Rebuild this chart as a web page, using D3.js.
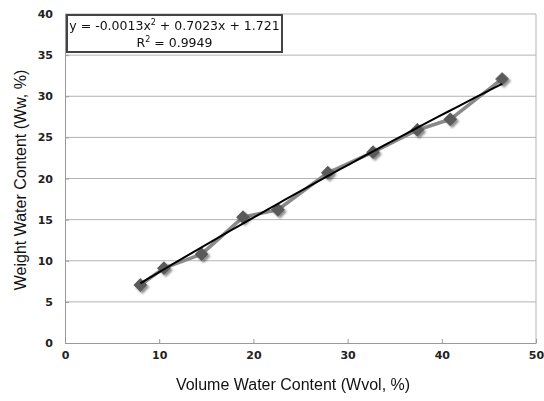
<!DOCTYPE html>
<html>
<head>
<meta charset="utf-8">
<script src="https://cdn.jsdelivr.net/npm/d3@7"></script>
<style>
  body { margin: 0; background: #fff; }
  svg { display: block; }
</style>
</head>
<body>
<div id="chart"></div>
<script>
// measured values
var volumeWater = [8.0, 10.5, 14.5, 18.9, 22.6, 27.9, 32.7, 37.4, 40.9, 46.4];
var weightWater = [7.05, 9.1, 10.8, 15.3, 16.2, 20.7, 23.2, 25.9, 27.2, 32.1];
// trendline coefficients shown in the label (a x^2 + b x + c)
var trendCoef = [-0.0013, 0.7023, 1.721];
var xTicks = [0, 10, 20, 30, 40, 50];
var yTicks = [0, 5, 10, 15, 20, 25, 30, 35, 40];

var width = 544, height = 401;
var margin = {top: 14, right: 8, bottom: 58, left: 65};

var svg = d3.select("#chart").append("svg")
    .attr("width", width).attr("height", height);

var defs = svg.append("defs");
var shadow = defs.append("filter").attr("id", "shadow")
    .attr("x", "-50%").attr("y", "-50%").attr("width", "200%").attr("height", "200%");
shadow.append("feGaussianBlur").attr("in", "SourceAlpha").attr("stdDeviation", 1.2);
shadow.append("feOffset").attr("dx", 1.5).attr("dy", 1.5).attr("result", "off");
shadow.append("feComponentTransfer").append("feFuncA").attr("type", "linear").attr("slope", 0.45);
var merge = shadow.append("feMerge");
merge.append("feMergeNode");
merge.append("feMergeNode").attr("in", "SourceGraphic");

var x = d3.scaleLinear().domain([0, 50]).range([margin.left, width - margin.right]);
var y = d3.scaleLinear().domain([0, 40]).range([height - margin.bottom, margin.top]);

// gridlines
svg.append("g")
  .selectAll("line")
  .data(yTicks.slice(1))
  .enter().append("line")
    .attr("x1", x(0)).attr("x2", x(50))
    .attr("y1", function(d) { return y(d); })
    .attr("y2", function(d) { return y(d); })
    .attr("stroke", "#b3b3b3").attr("stroke-width", 1);

// plot area right border
svg.append("line")
    .attr("x1", x(50)).attr("x2", x(50))
    .attr("y1", y(0)).attr("y2", y(40))
    .attr("stroke", "#b3b3b3");

// axes
var xAxis = svg.append("g")
    .attr("transform", "translate(0," + y(0) + ")")
    .call(d3.axisBottom(x).tickValues(xTicks).tickSize(4).tickSizeOuter(0));
var yAxis = svg.append("g")
    .attr("transform", "translate(" + x(0) + ",0)")
    .call(d3.axisLeft(y).tickValues(yTicks).tickSize(4).tickSizeOuter(0));

[xAxis, yAxis].forEach(function(ax) {
  ax.select(".domain").attr("stroke", "#999");
  ax.selectAll(".tick line").attr("stroke", "#999");
  ax.selectAll(".tick text")
      .attr("font-family", "Verdana, 'DejaVu Sans', sans-serif")
      .attr("font-weight", "bold")
      .attr("font-size", 11)
      .attr("fill", "#222");
});
xAxis.selectAll(".tick line").attr("y2", -4);
xAxis.selectAll(".tick text").attr("dy", "0.71em").attr("y", 8);
yAxis.selectAll(".tick line").attr("x2", 4);
yAxis.selectAll(".tick text").attr("x", -12);

// data series line
var pts = volumeWater.map(function(v, i) { return [v, weightWater[i]]; });
svg.append("path")
    .datum(pts)
    .attr("fill", "none")
    .attr("stroke", "#8a8a8a")
    .attr("stroke-width", 3.5)
    .attr("stroke-linejoin", "round")
    .attr("d", d3.line().x(function(d) { return x(d[0]); }).y(function(d) { return y(d[1]); }));

// markers
svg.append("g")
    .attr("filter", "url(#shadow)")
  .selectAll("path")
  .data(pts)
  .enter().append("path")
    .attr("d", d3.symbol().type(d3.symbolSquare).size(95))
    .attr("transform", function(d) { return "translate(" + x(d[0]) + "," + y(d[1]) + ") rotate(45)"; })
    .attr("fill", "#5a5a5a");

// polynomial trendline
var xMin = d3.min(volumeWater), xMax = d3.max(volumeWater);
var trendPts = d3.range(0, 41).map(function(i) {
  var xv = xMin + (xMax - xMin) * i / 40;
  return [xv, trendCoef[0] * xv * xv + trendCoef[1] * xv + trendCoef[2]];
});
svg.append("path")
    .datum(trendPts)
    .attr("fill", "none")
    .attr("stroke", "#000")
    .attr("stroke-width", 2)
    .attr("d", d3.line().x(function(d) { return x(d[0]); }).y(function(d) { return y(d[1]); }));

// equation label box
var box = svg.append("g");
box.append("rect")
    .attr("x", 67).attr("y", 15).attr("width", 215).attr("height", 37)
    .attr("fill", "#fff").attr("stroke", "#444").attr("stroke-width", 2);
var eq = box.append("text")
    .attr("x", 174.5).attr("y", 30)
    .attr("text-anchor", "middle")
    .attr("font-family", "Verdana, 'DejaVu Sans', sans-serif")
    .attr("font-size", 12.5).attr("fill", "#111");
eq.append("tspan").text("y = -0.0013x");
eq.append("tspan").attr("font-size", 8).attr("dy", -5).text("2");
eq.append("tspan").attr("dy", 5).text(" + 0.7023x + 1.721");
var r2 = box.append("text")
    .attr("x", 174.5).attr("y", 47)
    .attr("text-anchor", "middle")
    .attr("font-family", "Verdana, 'DejaVu Sans', sans-serif")
    .attr("font-size", 12.5).attr("fill", "#111");
r2.append("tspan").text("R");
r2.append("tspan").attr("font-size", 8).attr("dy", -5).text("2");
r2.append("tspan").attr("dy", 5).text(" = 0.9949");

// axis titles
svg.append("text")
    .attr("x", 293).attr("y", 390)
    .attr("text-anchor", "middle")
    .attr("font-family", "Arial, 'Liberation Sans', sans-serif")
    .attr("font-size", 16).attr("fill", "#111")
    .text("Volume Water Content (Wvol, %)");
svg.append("text")
    .attr("transform", "translate(26,180) rotate(-90)")
    .attr("text-anchor", "middle")
    .attr("font-family", "Arial, 'Liberation Sans', sans-serif")
    .attr("font-size", 16).attr("fill", "#111")
    .text("Weight Water Content (Ww, %)");
</script>
</body>
</html>
